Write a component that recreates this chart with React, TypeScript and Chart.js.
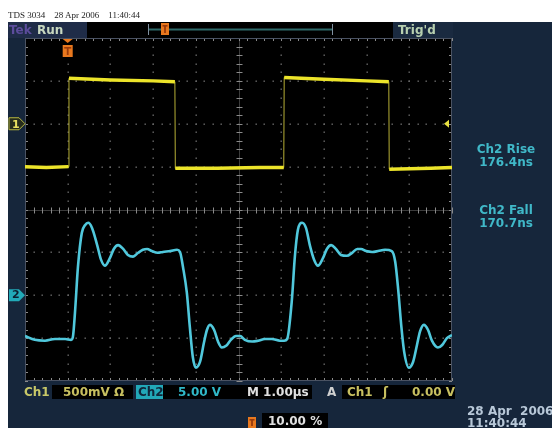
import React, { useEffect, useRef } from "react";
import { Chart, registerables } from "chart.js";
Chart.register(...registerables);

// ---- data (time in µs, volts) ----
const ch1Time = [0, 0.5, 1.02, 1.03, 2.0, 3.0, 3.51, 3.52, 4.5, 5.5, 6.06, 6.07, 7.0, 8.0, 8.52, 8.53, 9.5, 10];
const ch1Volts = [-0.5, -0.51, -0.5, 0.53, 0.51, 0.5, 0.49, -0.52, -0.52, -0.51, -0.51, 0.54, 0.52, 0.5, 0.49, -0.53, -0.52, -0.51];

const ch2Time = [
  0, 0.23, 0.47, 0.7, 0.94, 1.08, 1.12, 1.17, 1.24, 1.33, 1.41, 1.48, 1.57, 1.69, 1.78, 1.87, 1.99, 2.08, 2.18, 2.3,
  2.41, 2.53, 2.65, 2.76, 2.86, 2.97, 3.11, 3.23, 3.4, 3.56, 3.63, 3.7, 3.79, 3.86, 3.93, 4.0, 4.1, 4.19, 4.26, 4.33,
  4.43, 4.52, 4.61, 4.71, 4.82, 4.94, 5.04, 5.15, 5.32, 5.46, 5.62, 5.78, 5.97, 6.07, 6.14, 6.25, 6.32, 6.39, 6.49, 6.58,
  6.67, 6.77, 6.86, 6.98, 7.07, 7.17, 7.28, 7.4, 7.54, 7.66, 7.78, 7.87, 7.99, 8.13, 8.27, 8.43, 8.59, 8.67, 8.74, 8.81,
  8.88, 8.99, 9.09, 9.18, 9.25, 9.34, 9.44, 9.53, 9.67, 9.77, 9.88, 10.0,
];
const ch2Volts = [
  -4.75, -5.2, -5.3, -5.1, -5.1, -5.2, -4.9, -2.05, 3.3, 7.25, 8.2, 8.45, 7.85, 5.85, 4.15, 3.45, 4.35, 5.4, 5.85, 5.4,
  4.7, 4.5, 4.95, 5.3, 5.4, 5.15, 4.95, 5.05, 5.15, 5.3, 5.05, 3.3, 0.3, -3.7, -7.2, -8.45, -7.75, -5.55, -4.05, -3.45,
  -4.05, -5.4, -6.1, -5.9, -5.2, -4.75, -4.75, -5.2, -5.4, -5.3, -5.1, -5.1, -5.3, -5.3, -5.1, -0.55, 4.5, 7.6, 8.45, 7.85,
  5.85, 4.15, 3.45, 4.35, 5.4, 5.85, 5.4, 4.7, 4.6, 4.95, 5.4, 5.4, 5.15, 5.05, 5.15, 5.3, 5.15, 3.9, 0.65, -3.45,
  -6.6, -8.45, -7.75, -5.8, -4.25, -3.45, -4.05, -5.3, -6.1, -5.8, -5.0, -4.65,
];

// ---- scope settings ----
const xDivisions = 10;
const yDivisions = 8;
const timePerDiv = 1.0; // µs
const ch1VoltsPerDiv = 0.5;
const ch1OffsetDiv = 2;
const ch2VoltsPerDiv = 5.0;
const ch2OffsetDiv = -2;
const triggerTime = 1.0;
const triggerLevel = 0.0;

const measureLabels = ["Ch2 Rise", "Ch2 Fall"];
const measureValues = ["176.4ns", "170.7ns"];

const headerText = "TDS 3034\u00a0\u00a0\u00a0 28 Apr 2006\u00a0\u00a0\u00a0 11:40:44";

const ORANGE = "#e8781e";

function drawTIcon(ctx: CanvasRenderingContext2D, x: number, y: number, w: number, h: number) {
  ctx.fillStyle = ORANGE;
  ctx.fillRect(x, y, w, h);
  ctx.fillStyle = "#9a3a0a";
  ctx.fillRect(x + 1.5, y + 2, w - 3, 1.6);
  ctx.fillRect(x + w / 2 - 0.9, y + 2, 1.8, h - 4);
}

const scopePlugin = {
  id: "scope",
  beforeDraw(chart: any) {
    const ctx: CanvasRenderingContext2D = chart.ctx;
    const W = chart.width, H = chart.height;
    ctx.save();
    ctx.fillStyle = "#ffffff";
    ctx.fillRect(0, 0, W, H);
    ctx.fillStyle = "#16263b";
    ctx.fillRect(8, 22, W - 8, H - 22);
    // top bar
    ctx.fillStyle = "#1f2c48";
    ctx.fillRect(8, 22, 79, 16);
    ctx.fillStyle = "#000000";
    ctx.fillRect(87, 22, 306, 16);
    ctx.fillStyle = "#1a2a40";
    ctx.fillRect(393, 22, 60, 16);
    // record bracket
    ctx.strokeStyle = "#2f6a6a";
    ctx.lineWidth = 2;
    ctx.beginPath();
    ctx.moveTo(149, 29.5);
    ctx.lineTo(332, 29.5);
    ctx.stroke();
    ctx.strokeStyle = "#8090a0";
    ctx.lineWidth = 1;
    ctx.beginPath();
    ctx.moveTo(148.5, 24);
    ctx.lineTo(148.5, 35);
    ctx.moveTo(332.5, 24);
    ctx.lineTo(332.5, 35);
    ctx.stroke();
    drawTIcon(ctx, 161, 23, 8, 12);
    // bottom status boxes
    ctx.fillStyle = "#000000";
    ctx.fillRect(52, 385, 81, 14);
    ctx.fillRect(163, 385, 149, 14);
    ctx.fillRect(342, 385, 113, 14);
    ctx.fillRect(262, 413, 66, 15);
    ctx.fillStyle = "#22a8b8";
    ctx.fillRect(136, 385, 27, 14);
    drawTIcon(ctx, 248, 417, 8, 11);

    // graticule
    const { left, right, top, bottom } = chart.chartArea;
    const dx = (right - left) / xDivisions;
    const dy = (bottom - top) / yDivisions;
    ctx.fillStyle = "#000000";
    ctx.fillRect(left, top, right - left, bottom - top);
    ctx.fillStyle = "#6a6a6a";
    for (let i = 1; i < xDivisions; i++) {
      if (i === xDivisions / 2) continue;
      const x = Math.round(left + i * dx);
      for (let k = 1; k < yDivisions * 5; k++) {
        const y = Math.round(top + (k * dy) / 5);
        ctx.fillRect(x - 0.5, y - 0.5, 1.4, 1.4);
      }
    }
    for (let j = 1; j < yDivisions; j++) {
      if (j === yDivisions / 2) continue;
      const y = Math.round(top + j * dy);
      for (let k = 1; k < xDivisions * 5; k++) {
        const x = Math.round(left + (k * dx) / 5);
        ctx.fillRect(x - 0.5, y - 0.5, 1.4, 1.4);
      }
    }
    const cx = Math.round(left + (xDivisions / 2) * dx) + 0.5;
    const cy = Math.round(top + (yDivisions / 2) * dy) + 0.5;
    ctx.strokeStyle = "#3a3a3a";
    ctx.lineWidth = 1;
    ctx.beginPath();
    ctx.moveTo(cx, top);
    ctx.lineTo(cx, bottom);
    ctx.moveTo(left, cy);
    ctx.lineTo(right, cy);
    ctx.stroke();
    ctx.strokeStyle = "#8a8a8a";
    ctx.beginPath();
    for (let k = 0; k <= yDivisions * 5; k++) {
      const y = Math.round(top + (k * dy) / 5) + 0.5;
      ctx.moveTo(cx - 3, y);
      ctx.lineTo(cx + 3, y);
      ctx.moveTo(left, y);
      ctx.lineTo(left + 3, y);
      ctx.moveTo(right - 3, y);
      ctx.lineTo(right, y);
    }
    for (let k = 0; k <= xDivisions * 5; k++) {
      const x = Math.round(left + (k * dx) / 5) + 0.5;
      ctx.moveTo(x, cy - 3);
      ctx.lineTo(x, cy + 3);
      ctx.moveTo(x, top);
      ctx.lineTo(x, top + 3);
      ctx.moveTo(x, bottom - 3);
      ctx.lineTo(x, bottom);
    }
    ctx.stroke();
    ctx.strokeStyle = "#4a5262";
    ctx.strokeRect(Math.round(left) + 0.5, Math.round(top) + 0.5, Math.round(right - left) - 1, Math.round(bottom - top) - 1);
    ctx.restore();
  },
  afterDatasetsDraw(chart: any) {
    const ctx: CanvasRenderingContext2D = chart.ctx;
    const { left, right, top } = chart.chartArea;
    const y1 = chart.scales.yCh1.getPixelForValue(0);
    const y2 = chart.scales.yCh2.getPixelForValue(0);
    const yTrig = chart.scales.yCh1.getPixelForValue(triggerLevel);
    const xTrig = chart.scales.x.getPixelForValue(triggerTime);
    ctx.save();
    const pent = (yc: number) => {
      ctx.beginPath();
      ctx.moveTo(9, yc - 6);
      ctx.lineTo(left - 6, yc - 6);
      ctx.lineTo(left, yc);
      ctx.lineTo(left - 6, yc + 6);
      ctx.lineTo(9, yc + 6);
      ctx.closePath();
    };
    pent(y1);
    ctx.fillStyle = "#262c1c";
    ctx.fill();
    ctx.strokeStyle = "#b8b840";
    ctx.lineWidth = 1;
    ctx.stroke();
    pent(y2);
    ctx.fillStyle = "#22aab8";
    ctx.fill();
    // trigger level arrow
    ctx.fillStyle = "#e8e040";
    ctx.beginPath();
    ctx.moveTo(right - 8, yTrig);
    ctx.lineTo(right - 3, yTrig - 4);
    ctx.lineTo(right - 3, yTrig + 4);
    ctx.closePath();
    ctx.fill();
    // trigger position marker
    ctx.fillStyle = ORANGE;
    ctx.beginPath();
    ctx.moveTo(xTrig - 5, top + 1);
    ctx.lineTo(xTrig + 5, top + 1);
    ctx.lineTo(xTrig, top + 5);
    ctx.closePath();
    ctx.fill();
    drawTIcon(ctx, xTrig - 5, top + 7, 10, 12);
    ctx.restore();
  },
};

const font = "'DejaVu Sans', sans-serif";

function Txt(props: { x: number; y: number; color: string; children: React.ReactNode; size?: number; w?: number; center?: boolean }) {
  const size = props.size ?? 12;
  return (
    <div
      style={{
        position: "absolute",
        left: props.x,
        top: props.y,
        width: props.w,
        textAlign: props.center ? "center" : "left",
        font: `bold ${size}px ${font}`,
        lineHeight: `${size}px`,
        color: props.color,
        whiteSpace: "pre",
      }}
    >
      {props.children}
    </div>
  );
}

export default function App() {
  const ref = useRef<HTMLCanvasElement | null>(null);
  useEffect(() => {
    if (!ref.current) return;
    const ch1Pts = ch1Time.map((t, i) => ({ x: t, y: ch1Volts[i] }));
    const ch2Pts = ch2Time.map((t, i) => ({ x: t, y: ch2Volts[i] }));
    const chart = new Chart(ref.current, {
      type: "line",
      data: {
        datasets: [
          {
            label: "Ch1",
            data: ch1Pts,
            yAxisID: "yCh1",
            borderColor: "#ece42a",
            borderWidth: 3.5,
            pointRadius: 0,
            tension: 0,
            segment: {
              borderColor: (c: any) => (Math.abs(c.p1.parsed.y - c.p0.parsed.y) > 0.3 ? "rgba(0,0,0,0)" : undefined),
            },
          } as any,
          {
            label: "Ch1 edges",
            data: ch1Pts,
            yAxisID: "yCh1",
            borderColor: "#b8b036",
            borderWidth: 1,
            pointRadius: 0,
            tension: 0,
          },
          {
            label: "Ch2",
            data: ch2Pts,
            yAxisID: "yCh2",
            borderColor: "#50c8dc",
            borderWidth: 2.6,
            pointRadius: 0,
            cubicInterpolationMode: "monotone",
          },
        ],
      },
      options: {
        responsive: false,
        animation: false,
        events: [],
        layout: { padding: { left: 25, top: 38, right: 100, bottom: 47 } },
        scales: {
          x: { type: "linear", min: 0, max: xDivisions * timePerDiv, display: false },
          yCh1: {
            type: "linear",
            min: (-yDivisions / 2 - ch1OffsetDiv) * ch1VoltsPerDiv,
            max: (yDivisions / 2 - ch1OffsetDiv) * ch1VoltsPerDiv,
            display: false,
          },
          yCh2: {
            type: "linear",
            min: (-yDivisions / 2 - ch2OffsetDiv) * ch2VoltsPerDiv,
            max: (yDivisions / 2 - ch2OffsetDiv) * ch2VoltsPerDiv,
            display: false,
          },
        },
        plugins: { legend: { display: false }, tooltip: { enabled: false } },
      },
      plugins: [scopePlugin],
    });
    return () => chart.destroy();
  }, []);

  return (
    <div style={{ position: "fixed", left: 0, top: 0, width: 552, height: 428, overflow: "hidden", background: "#fff" }}>
      <canvas ref={ref} width={552} height={428} style={{ position: "absolute", left: 0, top: 0 }} />
      <div
        style={{
          position: "absolute",
          left: 8,
          top: 10.5,
          font: "9px 'Liberation Serif', serif",
          lineHeight: "9px",
          color: "#222",
          whiteSpace: "pre",
        }}
      >
        {headerText}
      </div>
      <Txt x={9} y={23.7} color="#5c4c9c">Tek</Txt>
      <Txt x={37} y={23.7} color="#c8d8c0">Run</Txt>
      <Txt x={398} y={23.5} color="#b8d0b0">Trig'd</Txt>
      <Txt x={12} y={119} color="#e8e060" size={11}>1</Txt>
      <Txt x={12} y={289} color="#0c2030" size={11}>2</Txt>
      {measureLabels.map((l, i) => (
        <React.Fragment key={l}>
          <Txt x={462} y={143 + i * 61} w={88} center color="#40b8c8">{l}</Txt>
          <Txt x={462} y={156 + i * 61} w={88} center color="#40b8c8">{measureValues[i]}</Txt>
        </React.Fragment>
      ))}
      <Txt x={24} y={386} color="#c8c868">Ch1</Txt>
      <Txt x={63} y={386} color="#c8c060">{`${ch1VoltsPerDiv * 1000}mV Ω`}</Txt>
      <Txt x={138} y={386} color="#10263a">Ch2</Txt>
      <Txt x={178} y={386} color="#30b8c8">{`${ch2VoltsPerDiv.toFixed(2)} V`}</Txt>
      <Txt x={247} y={386} color="#e0e0e0">{`M ${timePerDiv.toFixed(2)}µs`}</Txt>
      <Txt x={327} y={386} color="#d0d0d0">A</Txt>
      <Txt x={347} y={386} color="#c8c060">Ch1</Txt>
      <Txt x={383} y={386} color="#c8c060">ʃ</Txt>
      <Txt x={412} y={386} color="#c8c060">{`${triggerLevel.toFixed(2)} V`}</Txt>
      <Txt x={268} y={415} color="#e0e0e0">10.00 %</Txt>
      <Txt x={467} y={405} color="#b8c8d8">28 Apr  2006</Txt>
      <Txt x={467} y={417} color="#b8c8d8">11:40:44</Txt>
    </div>
  );
}
